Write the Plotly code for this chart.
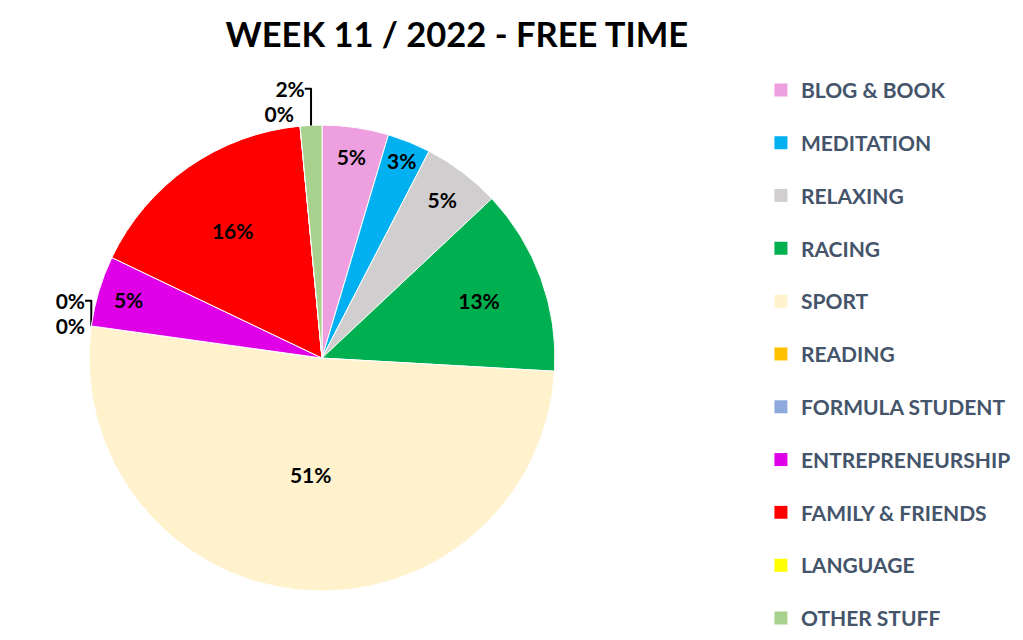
import plotly.graph_objects as go

# Week 11 / 2022 free time split (percent of total)
categories = ["BLOG & BOOK", "MEDITATION", "RELAXING", "RACING", "SPORT", "READING",
              "FORMULA STUDENT", "ENTREPRENEURSHIP", "FAMILY & FRIENDS", "LANGUAGE", "OTHER STUFF"]
shares = [4.6, 3.0, 5.4, 12.9, 51.3, 0, 0, 4.9, 16.4, 0, 1.5]
colors = ["#EE9FDF", "#00B0F0", "#D0CECE", "#00B050", "#FFF2CC", "#FFC000",
          "#8EA9DB", "#E000E8", "#FF0000", "#FFFF00", "#A9D18E"]

FONT = "Lato, sans-serif"
LEGEND_INK = "#44546A"

positions = ["inside" if v >= 2 else "outside" for v in shares]

fig = go.Figure()
fig.add_trace(go.Pie(
    labels=categories,
    values=shares,
    marker=dict(colors=colors, line=dict(color="white", width=1)),
    sort=False,
    direction="clockwise",
    rotation=0,
    textinfo="percent",
    texttemplate="%{percent:.0%}",
    textposition=positions,
    insidetextorientation="horizontal",
    textfont=dict(family=FONT, size=21, color="black", weight="bold"),
    outsidetextfont=dict(family=FONT, size=21, color="black", weight="bold"),
    domain=dict(x=[0.0792, 0.5347], y=[0.089, 0.817]),
    showlegend=False,
))

# legend entries drawn as marker-only traces so the rows can be spaced out
for name, col in zip(categories, colors):
    fig.add_trace(go.Scatter(
        x=[None], y=[None], mode="markers", name=name,
        marker=dict(symbol="square", size=13, color=col),
        legendgroup=name, showlegend=True,
    ))

fig.update_layout(
    width=1023, height=640,
    paper_bgcolor="white", plot_bgcolor="white",
    margin=dict(l=0, r=0, t=0, b=0, autoexpand=False),
    title=dict(text="<b>WEEK 11 / 2022 - FREE TIME</b>", x=0.4387, xanchor="center",
               y=0.958, yanchor="middle",
               font=dict(family=FONT, size=34.5, color="black")),
    xaxis=dict(visible=False), yaxis=dict(visible=False),
    legend=dict(x=0.736, xanchor="left", y=0.9034, yanchor="top",
                font=dict(family=FONT, size=21, color=LEGEND_INK, weight="bold"),
                tracegroupgap=22.5, itemclick=False, itemdoubleclick=False),
)

fig.write_html("out.html")
